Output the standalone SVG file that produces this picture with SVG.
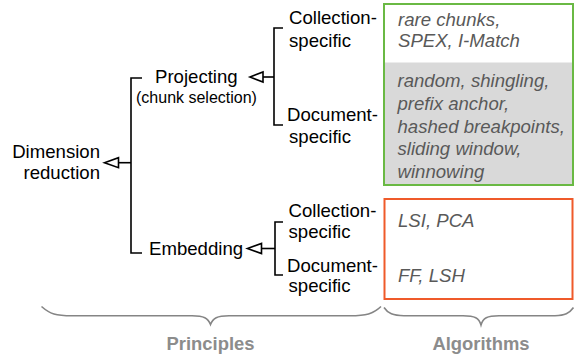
<svg xmlns="http://www.w3.org/2000/svg" width="574" height="356" viewBox="0 0 574 356">
<style>
.t{font-family:"Liberation Sans",Arial,sans-serif;font-size:18.6px;fill:#000}
.s{font-size:16px}
.a{font-family:"Liberation Sans",Arial,sans-serif;font-size:18.6px;font-style:italic;fill:#595959}
.h{font-family:"Liberation Sans",Arial,sans-serif;font-size:18.4px;font-weight:bold;fill:#8c8c8c;text-anchor:middle}
.ln{fill:none;stroke:#000;stroke-width:1.6}
.tri{fill:#fff;stroke:#000;stroke-width:1.6;stroke-linejoin:miter}
.br{fill:none;stroke:#858585;stroke-width:1.6}
</style>
<rect width="574" height="356" fill="#fff"/>
<g id="connectors">
<path class="ln" d="M142,78 H131 V253 H142"/>
<path class="ln" d="M118.5,162.7 H131"/>
<path class="tri" d="M104.5,162.7 L118.5,157.7 L118.5,167.7 Z"/>
<path class="ln" d="M283,28 H274 V125 H283"/>
<path class="ln" d="M263,77 H274"/>
<path class="tri" d="M250,77 L263,72 L263,82 Z"/>
<path class="ln" d="M283,222 H275 V275 H283"/>
<path class="ln" d="M261.5,248.5 H275"/>
<path class="tri" d="M247.5,248.5 L261.5,243.5 L261.5,253.5 Z"/>
</g>
<g id="dimension">
<text class="t" x="100" y="158" text-anchor="end">Dimension</text>
<text class="t" x="100" y="179" text-anchor="end">reduction</text>
</g>
<g id="projecting">
<text class="t" x="155" y="83">Projecting</text>
<text class="t s" x="136" y="103">(chunk selection)</text>
</g>
<g id="embedding">
<text class="t" x="149" y="255">Embedding</text>
</g>
<g id="proj-collection">
<text class="t" x="289" y="24">Collection-</text>
<text class="t" x="289" y="46.5">specific</text>
</g>
<g id="proj-document">
<text class="t" x="287" y="121">Document-</text>
<text class="t" x="289" y="143">specific</text>
</g>
<g id="emb-collection">
<text class="t" x="288.5" y="216.7">Collection-</text>
<text class="t" x="288.5" y="238.3">specific</text>
</g>
<g id="emb-document">
<text class="t" x="287" y="271.7">Document-</text>
<text class="t" x="288.5" y="291.7">specific</text>
</g>
<g id="proj-algorithms">
<rect x="384.5" y="62.5" width="188" height="122" fill="#d9d9d9"/>
<rect x="384" y="4" width="189" height="181" fill="none" stroke="#6ab944" stroke-width="2"/>
<text class="a" x="398" y="25.5">rare chunks,</text>
<text class="a" x="398" y="46.5">SPEX, I-Match</text>
<text class="a" x="397.5" y="87.3">random, shingling,</text>
<text class="a" x="397.5" y="110">prefix anchor,</text>
<text class="a" x="397.5" y="132.7">hashed breakpoints,</text>
<text class="a" x="397.5" y="155">sliding window,</text>
<text class="a" x="397.5" y="178">winnowing</text>
</g>
<g id="emb-algorithms">
<rect x="384.5" y="199" width="188" height="100" fill="none" stroke="#ef5a2a" stroke-width="2"/>
<text class="a" x="398" y="226.7">LSI, PCA</text>
<text class="a" x="398" y="281.7">FF, LSH</text>
</g>
<g id="principles">
<path class="br" d="M41.5,306.5 C50,314 56,315.7 72,315.7 L192,315.7 C204,315.7 208,318 210.5,324.5 C213,318 217,315.7 229,315.7 L350,315.7 C366,315.7 373,314 381,306.5"/>
<text class="h" x="210.5" y="350">Principles</text>
</g>
<g id="algorithms">
<path class="br" d="M384,307.5 C388,313.5 393,315.7 404,315.7 L463,315.7 C475,315.7 479,318 481,325 C483,318 487,315.7 499,315.7 L555,315.7 C565,315.7 569,313.5 573.5,307.5"/>
<text class="h" x="481" y="349.5">Algorithms</text>
</g>
</svg>
